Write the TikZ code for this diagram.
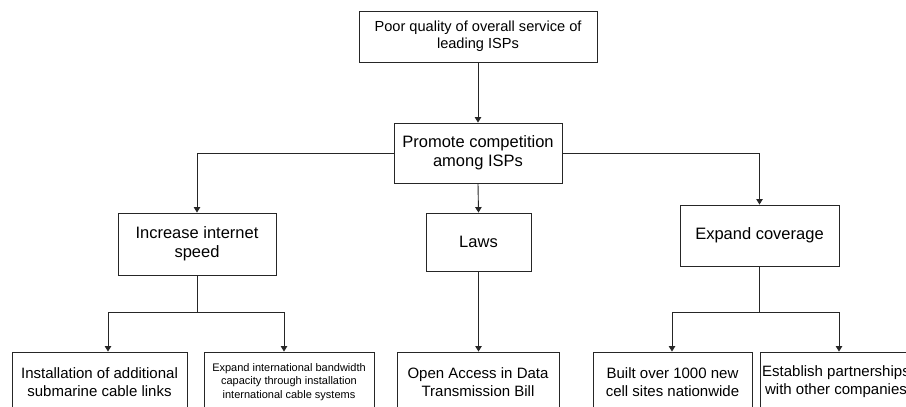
\documentclass[tikz,border=0pt]{standalone}
\usepackage{fontspec}
\setmainfont{Liberation Sans}
\usetikzlibrary{arrows.meta}
\begin{document}
\begin{tikzpicture}[x=1pt,y=-1pt,
  box/.style={draw=black!85, line width=0.9pt, rectangle, align=center, inner sep=0pt, text=black},
  lvlA/.style={box, font=\fontsize{14.6}{17}\selectfont},
  lvlB/.style={box, font=\fontsize{16.5}{19.3}\selectfont},
  lvlC/.style={box, font=\fontsize{15}{18.2}\selectfont},
  lvlS/.style={box, font=\fontsize{11}{13.3}\selectfont},
  link/.style={draw=black!85, line width=0.9pt},
  arr/.style={link, -{Triangle[width=6.5pt,length=5.5pt]}}]
\useasboundingbox[fill=white] (0,0) rectangle (906,407);

\node[lvlA, minimum width=238pt, minimum height=51pt] (top) at (478,36.5) {Poor quality of overall service of\\leading ISPs};
\node[lvlB, minimum width=168pt, minimum height=60pt] (promote) at (478,153) {Promote competition\\among ISPs};
\node[lvlB, minimum width=158pt, minimum height=62pt] (speed) at (197,244) {Increase internet\\speed};
\node[lvlB, minimum width=105pt, minimum height=58pt] (laws) at (478.5,242) {Laws};
\node[lvlB, minimum width=159pt, minimum height=61pt] (coverage) at (759.5,235.5) {Expand coverage};

\node[lvlC, minimum width=175pt, minimum height=60pt] (inst) at (99.5,382) {Installation of additional\\submarine cable links};
\node[lvlS, minimum width=170pt, minimum height=60pt] (intl) at (289,382) {Expand international bandwidth\\capacity through installation\\international cable systems};
\node[lvlC, minimum width=162pt, minimum height=60pt] (open) at (478,382) {Open Access in Data\\Transmission Bill};
\node[lvlC, minimum width=159pt, minimum height=60pt] (built) at (672.5,382) {Built over 1000 new\\cell sites nationwide};
\node[lvlC, minimum width=152pt, minimum height=60pt] (estab) at (836,382) {Establish partnerships\\with other companies};

\coordinate (j1) at (197,312);
\coordinate (j2) at (759.5,312);

\draw[arr] (top.south) -- (promote.north);
\draw[arr] (promote.west) -| (speed.north);
\draw[arr] (promote.east) -| (coverage.north);
\draw[arr] (promote.south) -- (laws.north);

\draw[link] (speed.south) -- (j1);
\draw[arr] (j1) -| ([xshift=8.5pt]inst.north);
\draw[arr] (j1) -| ([xshift=-5pt]intl.north);
\draw[arr] (laws.south) -- (open.north -| laws.south);
\draw[link] (coverage.south) -- (j2);
\draw[arr] (j2) -| ([xshift=-0.5pt]built.north);
\draw[arr] (j2) -| ([xshift=3pt]estab.north);
\end{tikzpicture}
\end{document}
